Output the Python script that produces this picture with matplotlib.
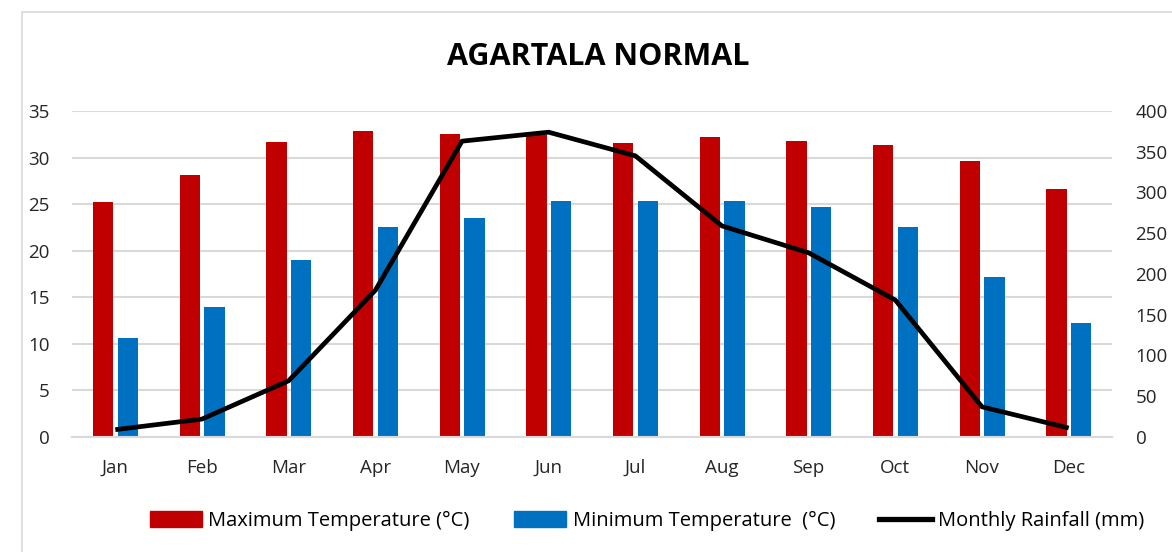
import numpy as np
import matplotlib.pyplot as plt
from matplotlib.patches import Rectangle
from matplotlib.lines import Line2D

plt.rcParams['font.family'] = ['Open Sans', 'DejaVu Sans']

months = ['Jan', 'Feb', 'Mar', 'Apr', 'May', 'Jun', 'Jul', 'Aug', 'Sep', 'Oct', 'Nov', 'Dec']
max_temp = [25.2, 28.1, 31.7, 32.9, 32.5, 32.4, 31.6, 32.2, 31.8, 31.4, 29.6, 26.6]
min_temp = [10.6, 14.0, 19.0, 22.5, 23.5, 25.3, 25.3, 25.3, 24.7, 22.5, 17.2, 12.2]
rainfall = [9, 22, 69, 180, 363, 374, 345, 259, 226, 168, 37, 11]

red = '#c00000'
blue = '#0070c0'
grid = '#d9d9d9'

fig = plt.figure(figsize=(11.72, 5.52), dpi=100)
# outer chart frame
fig.patches.append(Rectangle((22 / 1172, -0.01), 1.0, 1 - 12 / 552 + 0.01,
                             transform=fig.transFigure, fill=False,
                             edgecolor='#d9d9d9', lw=1.2))

ax = fig.add_axes([72 / 1172, 1 - 437 / 552, 1040 / 1172, 326 / 552])
ax2 = ax.twinx()

x = np.arange(len(months))
w = 0.235
ax.bar(x - 0.14, max_temp, w, color=red, zorder=2)
ax.bar(x + 0.145, min_temp, w, color=blue, zorder=2)
ax2.plot(x, rainfall, color='black', lw=3.4, solid_capstyle='butt', zorder=3)

ax.set_xlim(-0.5, 11.5)
ax.set_ylim(0, 35)
ax.set_yticks(range(0, 36, 5))
ax2.set_ylim(0, 400)
ax2.set_yticks(range(0, 401, 50))
ax.set_xticks(x)
ax.set_xticklabels(months)

ax.yaxis.grid(True, color=grid, lw=1.5, zorder=0)
ax.set_axisbelow(True)
for a in (ax, ax2):
    for s in a.spines.values():
        s.set_visible(False)
    a.tick_params(length=0, labelsize=13.5, colors='#262626')
ax.spines['bottom'].set_visible(True)
ax.spines['bottom'].set_color(grid)
ax.spines['bottom'].set_linewidth(1.5)
ax.tick_params(axis='x', pad=16)
ax.tick_params(axis='y', pad=16)
ax2.tick_params(axis='y', pad=17)

fig.text(598 / 1172, 1 - 57 / 552, 'AGARTALA NORMAL', ha='center', va='center',
         fontsize=22, fontweight='bold', color='black')

handles = [Rectangle((0, 0), 1, 1, color=red),
           Rectangle((0, 0), 1, 1, color=blue),
           Line2D([0], [0], color='black', lw=3.8)]
labels = ['Maximum Temperature (°C)', 'Minimum Temperature  (°C)', 'Monthly Rainfall (mm)']
fig.legend(handles, labels, loc='center', bbox_to_anchor=(647 / 1172, 1 - 521 / 552),
           ncol=3, frameon=False, fontsize=14.5, handlelength=2.6, handleheight=0.8,
           handletextpad=0.3, columnspacing=2.2)

fig.savefig('out.png', dpi=100)
